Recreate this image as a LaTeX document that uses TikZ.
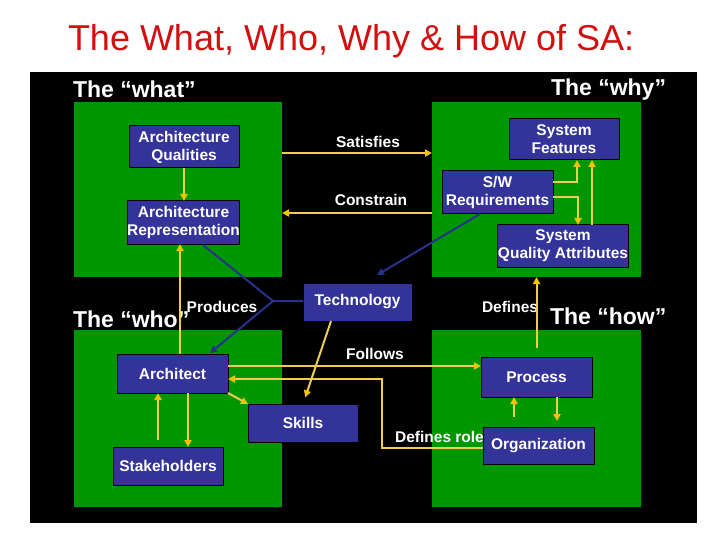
\documentclass[tikz,border=0pt]{standalone}
\usepackage{fontspec}
\setmainfont{Liberation Sans}
\usetikzlibrary{arrows.meta,calc}
\definecolor{titlered}{RGB}{210,16,16}
\definecolor{gfill}{RGB}{0,150,0}
\definecolor{bfill}{RGB}{51,51,153}
\definecolor{ylw}{RGB}{240,204,80}
\definecolor{ygold}{RGB}{245,196,0}
\definecolor{bline}{RGB}{40,50,140}
\tikzset{
  every node/.style={inner sep=0pt, outer sep=0pt},
  gbox/.style={fill=gfill, anchor=north west},
  bx/.style={fill=bfill, draw=black, line width=1pt, text=white, align=center,
    font=\fontsize{15.5}{18}\selectfont\bfseries},
  lbl/.style={text=white, font=\fontsize{15.5}{18}\selectfont\bfseries},
  hdr/.style={text=white, anchor=base west, font=\fontsize{23}{26}\selectfont\bfseries},
  ya/.style={draw=ylw, line width=2pt, -{Triangle[width=7pt,length=7pt,color=ygold]}},
  yl/.style={draw=ylw, line width=2pt},
  ba/.style={draw=bline, line width=2pt, -{Triangle[width=7pt,length=7pt,color=bline]}},
  bl/.style={draw=bline, line width=2pt}
}
\begin{document}
\begin{tikzpicture}[x=1pt,y=-1pt]
\useasboundingbox[fill=white] (0,0) rectangle (720,540);
\fill[black] (30,72) rectangle (697,523);
\node[anchor=base west, text=titlered, font=\fontsize{36}{40}\selectfont] (title) at (68,51) {The What, Who, Why \& How of SA:};

% green areas
\node[gbox, minimum width=208, minimum height=175] (what) at (74,102) {};
\node[gbox, minimum width=209, minimum height=175] (why) at (432,102) {};
\node[gbox, minimum width=208, minimum height=177] (who) at (74,330) {};
\node[gbox, minimum width=209, minimum height=177] (how) at (432,330) {};

% headers
\node[hdr] (hwhat) at (73,98) {The “what”};
\node[hdr] (hwhy) at (551,96) {The “why”};
\node[hdr] (hwho) at (73,327) {The “who”};
\node[hdr] (hhow) at (550,324) {The “how”};

% boxes
\node[bx, minimum width=110, minimum height=42] (aq) at (184,147) {Architecture\\Qualities};
\node[bx, minimum width=111, minimum height=43] (ar) at (183.5,222.5) {Architecture\\Representation};
\node[bx, minimum width=110, minimum height=41] (sf) at (564,139.5) {System\\Features};
\node[bx, minimum width=111, minimum height=43] (sw) at (497.5,192.5) {S/W\\Requirements};
\node[bx, minimum width=120, minimum height=42] (sqa) at (563,246) {System\\Quality Attributes};
\node[bx, minimum width=109, minimum height=38] (tech) at (357.5,302) {Technology};
\node[bx, minimum width=111, minimum height=39] (arch) at (172.5,373.5) {Architect};
\node[bx, minimum width=110, minimum height=38] (skills) at (303,423) {Skills};
\node[bx, minimum width=110, minimum height=38] (stake) at (168,466) {Stakeholders};
\node[bx, minimum width=111, minimum height=40] (proc) at (536.5,377) {Process};
\node[bx, minimum width=111, minimum height=37] (org) at (538.5,445.5) {Organization};

% labels
\node[lbl] (lsat) at (368,142) {Satisfies};
\node[lbl] (lcon) at (371,200) {Constrain};
\node[lbl] (lprod) at (222,307) {Produces};
\node[lbl] (ldef) at (510,307) {Defines};
\node[lbl] (lfol) at (375,354) {Follows};
\node[lbl] (ldr) at (439.5,437) {Defines role};

% coordinates
\coordinate (cs) at (0,153);
\coordinate (cc) at (0,213);
\coordinate (k1) at (577,182);
\coordinate (k2) at (578,197);
\coordinate (k3) at (592,0);
\coordinate (p1) at (514,0);
\coordinate (p2) at (557,0);
\coordinate (cf) at (0,366);
\coordinate (d1) at (0,448);
\coordinate (d2) at (382,448);
\coordinate (d3) at (382,379);
\coordinate (a1) at (158,0);
\coordinate (a2) at (188,0);
\coordinate (a3) at (180,0);
\coordinate (t1) at (331,0);
\coordinate (t2) at (303,0);
\coordinate (bp) at (273,301);
\coordinate (bar) at (203,245);
\coordinate (barch) at (210,353);
\coordinate (s1) at (480,0);
\coordinate (s2) at (377,275);

% yellow connectors
\draw[ya] (aq.south) -- (aq.south |- ar.north);
\draw[ya] (cs -| what.east) -- (cs -| why.west);
\draw[ya] (cc -| why.west) -- (cc -| what.east);
\draw[ya] (k1 -| sw.east) -- (k1) -- (k1 |- sf.south);
\draw[ya] (k2 -| sw.east) -- (k2) -- (k2 |- sqa.north);
\draw[ya] (k3 |- sqa.north) -- (k3 |- sf.south);
\draw[ya] ([yshift=9pt]proc.north) -- (proc.north |- why.south);
\draw[ya, shorten <=10pt] (p1 |- org.north) -- (p1 |- proc.south);
\draw[ya, shorten >=6pt] (p2 |- proc.south) -- (p2 |- org.north);
\draw[ya] (cf -| arch.east) -- (cf -| proc.west);
\draw[ya] (d1 -| org.west) -- (d2) -- (d3) -- (d3 -| arch.east);
\draw[ya] (arch.south east) -- (skills.north west);
\draw[ya, shorten <=7pt] (a1 |- stake.north) -- (a1 |- arch.south);
\draw[ya] (a2 |- arch.south) -- (a2 |- stake.north);
\draw[ya] (a3 |- arch.north) -- (a3 |- ar.south);
\draw[ya, shorten >=7pt] (t1 |- tech.south) -- (t2 |- skills.north);

% blue connectors
\draw[bl] (bp -| tech.west) -- (bp) -- (bar);
\draw[ba] (bp) -- (barch);
\draw[ba] (s1 |- sw.south) -- (s2);
\end{tikzpicture}
\end{document}
